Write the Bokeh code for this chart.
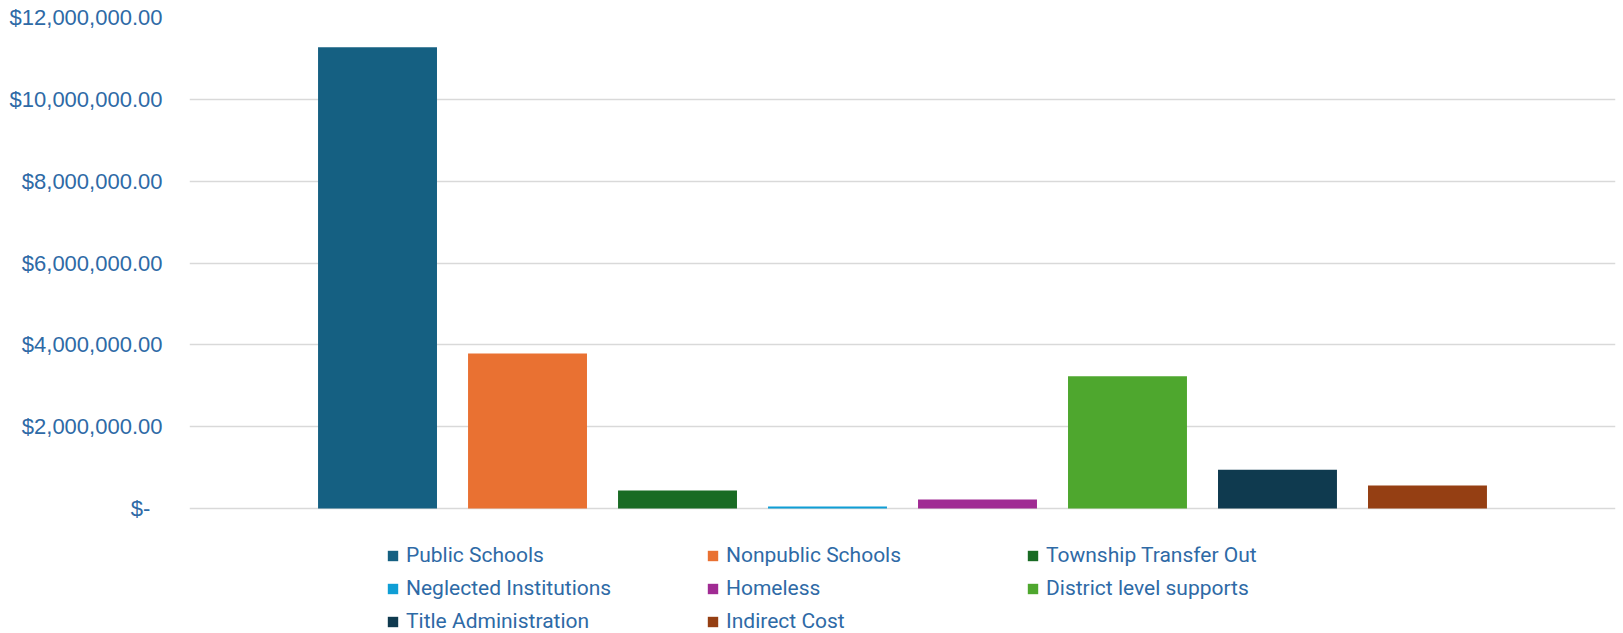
from bokeh.plotting import figure
from bokeh.models import ColumnDataSource, Range1d, FixedTicker, CustomJSTickFormatter
from bokeh.embed import file_html
from bokeh.resources import INLINE

categories = ["Public Schools", "Nonpublic Schools", "Township Transfer Out",
              "Neglected Institutions", "Homeless", "District level supports",
              "Title Administration", "Indirect Cost"]
values = [11270000, 3790000, 440000, 50000, 220000, 3230000, 950000, 560000]
colors = ["#156082", "#E97132", "#196B24", "#0F9ED5", "#A02B93", "#4EA72E",
          "#0F3A4F", "#953F13"]
y_ticks = [0, 2000000, 4000000, 6000000, 8000000, 10000000, 12000000]

TEXT = "#2E6AA6"

src = ColumnDataSource(dict(x=list(range(len(categories))), name=categories,
                            value=values, color=colors))

# frame runs to the bottom of the canvas so the legend can sit below the zero line
p = figure(width=1623, height=633, output_backend="svg", toolbar_location=None,
           x_range=Range1d(-1.2535, 8.2535),
           y_range=Range1d(-3054000, 12000000),
           min_border_left=189, min_border_right=8, min_border_top=17, min_border_bottom=0)
p.outline_line_color = None

p.vbar(x="x", top="value", width=0.793, fill_color="color", line_color=None,
       legend_field="name", source=src)

p.xaxis.visible = False
p.xgrid.visible = False
p.ygrid.grid_line_color = "#D9D9D9"
p.ygrid.grid_line_width = 1.5

ya = p.yaxis[0]
ya.ticker = FixedTicker(ticks=y_ticks)
ya.formatter = CustomJSTickFormatter(code="""
if (tick == 0) { return "$-\\u00a0\\u00a0"; }
return "$" + tick.toLocaleString("en-US", {minimumFractionDigits: 2, maximumFractionDigits: 2});
""")
ya.axis_line_color = None
ya.major_tick_line_color = None
ya.minor_tick_line_color = None
ya.major_tick_out = 0
ya.major_tick_in = 0
ya.major_label_standoff = 27
ya.major_label_text_font = "Liberation Sans"
ya.major_label_text_font_size = "22px"
ya.major_label_text_color = TEXT

lg = p.legend[0]
lg.orientation = "horizontal"
lg.ncols = 3
lg.location = (197, 0)
lg.padding = 0
lg.margin = 0
lg.border_line_color = None
lg.background_fill_alpha = 0
lg.glyph_width = 13
lg.glyph_height = 13
lg.label_standoff = 7
lg.label_height = 20
lg.label_width = 291
lg.spacing = 9
lg.label_text_font = "Roboto"
lg.label_text_font_size = "21px"
lg.label_text_color = TEXT

open("out.html", "w").write(file_html(p, INLINE))
